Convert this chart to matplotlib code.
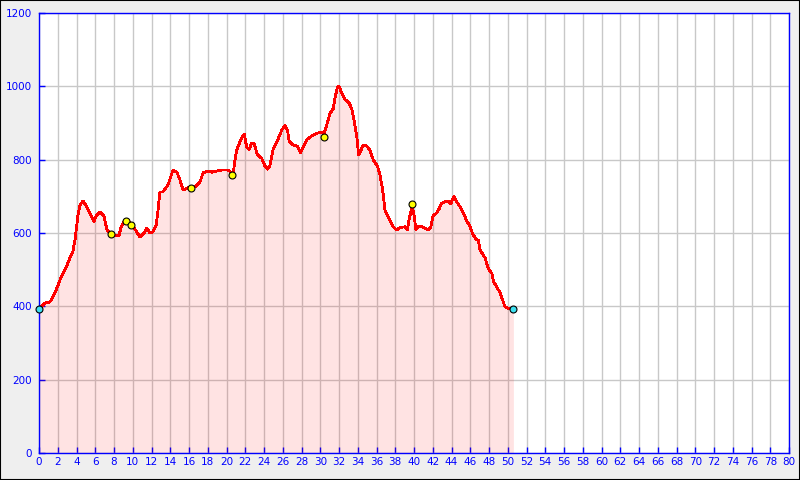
import matplotlib.pyplot as plt
from matplotlib.patches import Rectangle

# elevation profile (km, m)
dist_km = [0.0, 0.64, 1.17, 1.7, 2.24, 2.77, 3.3, 3.6, 3.84, 4.16, 4.37, 4.69, 5.0,
           5.44, 5.87, 6.08, 6.5, 6.93, 7.25, 7.68, 8.1, 8.53, 8.75, 9.17, 9.5, 9.8,
           10.3, 10.77, 11.2, 11.5, 11.84, 12.16, 12.5, 12.7, 12.9, 13.2, 13.76, 14.3,
           14.7, 15.04, 15.36, 15.9, 16.6, 17.17, 17.5, 18.0, 18.45, 18.99, 19.5, 20.16,
           20.5, 20.7, 20.9, 21.1, 21.5, 21.9, 22.15, 22.4, 22.7, 22.97, 23.3, 23.75,
           24.1, 24.4, 24.64, 25.0, 25.5, 25.9, 26.24, 26.5, 26.7, 27.1, 27.55, 27.9,
           28.2, 28.55, 29.1, 29.6, 30.15, 30.4, 30.7, 31.04, 31.4, 31.57, 31.8, 32.0,
           32.3, 32.64, 33.0, 33.35, 33.6, 33.9, 34.1, 34.6, 34.95, 35.3, 35.66, 36.1,
           36.37, 36.66, 36.9, 37.15, 37.44, 37.8, 38.15, 38.5, 39.04, 39.3, 39.5, 39.8,
           40.03, 40.2, 40.46, 40.8, 41.17, 41.5, 41.8, 42.06, 42.4, 42.7, 42.95, 43.3,
           43.66, 43.9, 44.27, 44.55, 44.9, 45.26, 45.6, 45.97, 46.3, 46.7, 46.86, 47.04,
           47.4, 47.6, 47.9, 48.3, 48.5, 48.8, 49.2, 49.46, 49.7, 50.06, 50.6]
elev_m = [393, 409, 412, 436, 472, 499, 532, 548, 581, 649, 676, 687, 676,
          652, 630, 646, 657, 646, 608, 597, 594, 592, 616, 635, 630, 627,
          608, 589, 600, 614, 600, 603, 622, 663, 712, 712, 731, 772,
          766, 745, 717, 723, 725, 739, 764, 769, 766, 769, 772, 772,
          765, 758, 799, 826, 854, 870, 834, 828, 845, 843, 813, 804,
          783, 774, 785, 831, 856, 881, 893, 881, 849, 840, 837, 819,
          836, 854, 865, 872, 874, 870, 895, 926, 940, 967, 995, 1001,
          981, 963, 958, 940, 908, 863, 813, 840, 837, 826, 799, 783,
          758, 717, 663, 649, 635, 617, 608, 615, 617, 610, 640, 672,
          645, 610, 617, 617, 613, 608, 617, 649, 654, 667, 681, 685,
          687, 679, 699, 685, 672, 654, 635, 617, 595, 581, 581, 554,
          540, 531, 504, 490, 467, 454, 436, 417, 399, 395, 393]

# waypoints
wp_km = [7.68, 9.28, 9.81, 16.2, 20.6, 30.4, 39.8]
wp_m = [597, 633, 622, 723, 758, 863, 678]
ends_km = [0.0, 50.6]
ends_m = [393, 393]

xticks = list(range(0, 81, 2))
yticks = list(range(0, 1201, 200))

blue = '#0000ff'

fig = plt.figure(figsize=(8, 4.8), dpi=100, facecolor='#efefef')
fig.patches.append(Rectangle((0, 0), 1, 1, transform=fig.transFigure,
                             facecolor='none', edgecolor='black', linewidth=1.5))
ax = fig.add_axes([39 / 800, 27 / 480, 750 / 800, 440 / 480])

ax.set_xlim(0, 80)
ax.set_ylim(0, 1200)
ax.set_xticks(xticks)
ax.set_yticks(yticks)
ax.grid(True, color='#c8c8c8', linewidth=1.0)
ax.set_axisbelow(True)

ax.fill_between(dist_km, 0, elev_m, color='#ff0000', alpha=0.11, linewidth=0)
# rough, pixel-ish line like the original
ax.plot(dist_km, elev_m, color='#ff0000', linewidth=1.3, antialiased=False)
ax.plot(wp_km, wp_m, 'o', markersize=5, markerfacecolor='#ffff00',
        markeredgecolor='black', markeredgewidth=0.8)
ax.plot(ends_km, ends_m, 'o', markersize=5, markerfacecolor='#3ee0f0',
        markeredgecolor='black', markeredgewidth=0.8, clip_on=False, zorder=5)

for s in ax.spines.values():
    s.set_color(blue)
    s.set_linewidth(1.0)
ax.tick_params(direction='in', length=4, width=1, color=blue,
               labelcolor=blue, labelsize=7.5)
ax.tick_params(axis='y', pad=5)
ax.tick_params(axis='x', pad=3)

fig.savefig('out.png', dpi=100, facecolor=fig.get_facecolor())
